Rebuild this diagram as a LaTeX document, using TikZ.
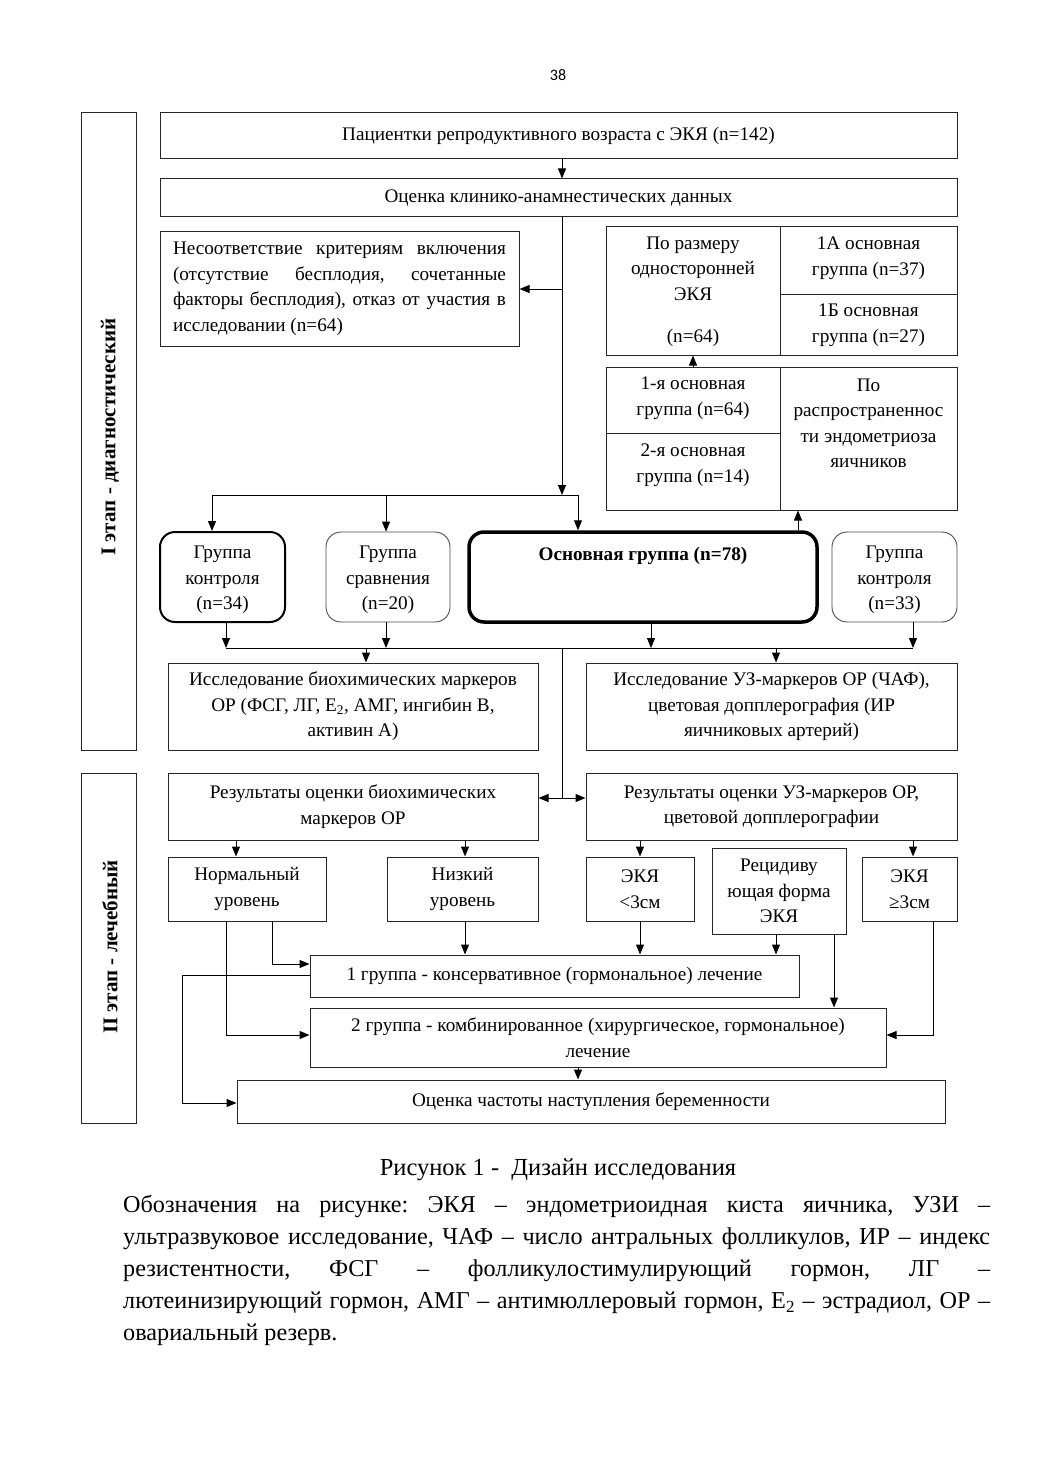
\documentclass[tikz,border=0pt]{standalone}
\usepackage{fontspec}
\setmainfont{Liberation Serif}
\newfontfamily\pagefont{Carlito}
\usetikzlibrary{arrows.meta}
\frenchspacing
\begin{document}
\begin{tikzpicture}[x=1pt,y=-1pt,
  every node/.style={font=\fontsize{19.2}{25.5}\selectfont, inner sep=0pt},
  box/.style={draw=black!85, line width=1pt, align=center},
  cell/.style={draw=black!85, line width=1pt},
  rbox/.style={draw=black!70, line width=0.9pt, rounded corners=15pt, align=center},
  stagebox/.style={draw=black!85, line width=1pt},
  ln/.style={line width=1pt, black},
  arr/.style={ln, -{Triangle[length=10pt,width=8pt]}},
  arrtwo/.style={ln, {Triangle[length=10pt,width=8pt]}-{Triangle[length=10pt,width=8pt]}},
  txt/.style={align=center}
]
\useasboundingbox (0,0) rectangle (1040,1471);
\fill[white] (0,0) rectangle (1040,1471);

% page number
\node[font=\pagefont\fontsize{16}{18}\selectfont] (pg) at (558,75) {38};

% stage boxes
\node[stagebox, minimum width=55pt, minimum height=637pt] (st1) at (108.5,431.5) {};
\node[font=\bfseries\fontsize{21}{22}\selectfont, rotate=90] (st1t) at (110,437) {I этап - диагностический};
\node[stagebox, minimum width=55pt, minimum height=350pt] (st2) at (108.5,948) {};
\node[font=\bfseries\fontsize{21}{22}\selectfont, rotate=90] (st2t) at (110,947) {II этап - лечебный};

% top boxes
\node[box, minimum width=797pt, minimum height=46pt] (p1) at (558.5,136) {Пациентки репродуктивного возраста с ЭКЯ (n=142)};
\node[box, minimum width=797pt, minimum height=38pt] (p2) at (558.5,198) {Оценка клинико-анамнестических данных};

% exclusion box
\node[box, minimum width=359pt, minimum height=114pt, text width=333pt, align=justify] (ex) at (339.5,289)
 {Несоответствие критериям включения\linebreak (отсутствие бесплодия, сочетанные\linebreak факторы бесплодия), отказ от участия в\linebreak исследовании (n=64)};

% right top block
\node[cell, minimum width=174pt, minimum height=128pt] (rtA) at (693,291) {};
\node[txt] (rtAt) at (693,292) {По размеру\\односторонней\\ЭКЯ\\[17pt](n=64)};
\node[cell, minimum width=177pt, minimum height=67pt] (rtB) at (868.5,260.5) {};
\node[txt] (rtBt) at (868.5,258) {1А основная\\группа (n=37)};
\node[cell, minimum width=177pt, minimum height=61pt] (rtC) at (868.5,324.5) {};
\node[txt] (rtCt) at (868.5,325) {1Б основная\\группа (n=27)};

% lower right block
\node[cell, minimum width=174pt, minimum height=66pt] (loA) at (693,400) {};
\node[txt] (loAt) at (693,398) {1-я основная\\группа (n=64)};
\node[cell, minimum width=174pt, minimum height=77pt] (loB) at (693,471.5) {};
\node[txt] (loBt) at (693,465) {2-я основная\\группа (n=14)};
\node[cell, minimum width=177pt, minimum height=143pt] (loC) at (868.5,438.5) {};
\node[txt] (loCt) at (868.5,423.5) {По\\распространеннос\\ти эндометриоза\\яичников};

% groups
\node[rbox, draw=black, line width=2pt, minimum width=125pt, minimum height=90pt] (g1) at (222.5,577) {};
\node[txt] (g1t) at (222.5,580) {Группа\\контроля\\(n=34)};
\node[rbox, minimum width=124pt, minimum height=90pt] (g2) at (388,577) {};
\node[txt] (g2t) at (388,580) {Группа\\сравнения\\(n=20)};
\node[rbox, draw=black, line width=3.5pt, minimum width=348pt, minimum height=90pt] (gm) at (643,577) {};
\node[txt, font=\bfseries\fontsize{19.2}{25.5}\selectfont] (gmt) at (643,556) {Основная группа (n=78)};
\node[rbox, minimum width=125pt, minimum height=90pt] (g4) at (894.5,577) {};
\node[txt] (g4t) at (894.5,580) {Группа\\контроля\\(n=33)};

% studies
\node[box, minimum width=370pt, minimum height=87pt] (s1) at (353,706.5) {Исследование биохимических маркеров\\ОР (ФСГ, ЛГ, E\textsubscript{2}, АМГ, ингибин В,\\активин А)};
\node[box, minimum width=371pt, minimum height=87pt] (s2) at (771.5,706.5) {Исследование УЗ-маркеров ОР (ЧАФ),\\цветовая допплерография (ИР\\яичниковых артерий)};

% results
\node[box, minimum width=370pt, minimum height=67pt] (r1) at (353,806.5) {Результаты оценки биохимических\\маркеров ОР};
\node[box, minimum width=371pt, minimum height=67pt] (r2) at (771.5,806.5) {Результаты оценки УЗ-маркеров ОР,\\цветовой допплерографии};

% levels
\node[box, minimum width=158pt, minimum height=64pt] (n1) at (247,889) {Нормальный\\уровень};
\node[box, minimum width=151pt, minimum height=64pt] (n2) at (462.5,889) {Низкий\\уровень};
\node[box, minimum width=108pt, minimum height=64pt] (e1) at (640,889) {ЭКЯ\\<3см};
\node[box, minimum width=134pt, minimum height=86pt] (rc) at (779,891) {Рецидиву\\ющая форма\\ЭКЯ};
\node[box, minimum width=95pt, minimum height=64pt] (e2) at (909.5,889) {ЭКЯ\\≥3см};

% treatment
\node[box, minimum width=489pt, minimum height=42pt] (G1) at (554.5,976) {1 группа - консервативное (гормональное) лечение};
\node[box, minimum width=576pt, minimum height=59pt] (G2) at (598,1037.5) {2 группа - комбинированное (хирургическое, гормональное)\\лечение};
\node[box, minimum width=708pt, minimum height=43pt] (O) at (591,1101.5) {Оценка частоты наступления беременности};

% caption
\node[font=\fontsize{24.5}{28}\selectfont] (cap) at (558,1170) {Рисунок 1 -\ \ Дизайн исследования};
\node[anchor=north west, text width=867pt, align=justify, font=\fontsize{24.2}{32}\selectfont] (leg) at (123,1195)
{Обозначения на рисунке: ЭКЯ – эндометриоидная киста яичника, УЗИ –\linebreak
ультразвуковое исследование, ЧАФ – число антральных фолликулов, ИР – индекс\linebreak
резистентности, ФСГ – фолликулостимулирующий гормон, ЛГ –\linebreak
лютеинизирующий гормон, АМГ – антимюллеровый гормон, E\textsubscript{2} – эстрадиол, ОР –\linebreak
овариальный резерв.};

% coordinates
\coordinate (vx) at (562,0);
\coordinate (bj) at (562,495);
\coordinate (jL) at (212,495);
\coordinate (jM) at (386,495);
\coordinate (jR) at (578,495);
\coordinate (u2) at (798,0);
\coordinate (hL) at (226,648);
\coordinate (hM) at (386,648);
\coordinate (hC) at (651,648);
\coordinate (hR) at (913,648);
\coordinate (hS1) at (366,648);
\coordinate (hS2) at (776,648);
\coordinate (hV) at (562,648);
\coordinate (dj) at (562,798);
\coordinate (xa) at (236,0);
\coordinate (xb) at (465,0);
\coordinate (xc) at (640,0);
\coordinate (xd) at (913,0);
\coordinate (k1) at (272,964);
\coordinate (k2) at (226,1035);
\coordinate (k5) at (933,1035);
\coordinate (xr1) at (776,0);
\coordinate (xr2) at (834,0);
\coordinate (k3) at (182,975);
\coordinate (k4) at (182,1103);
\coordinate (xo) at (578,0);

% connectors
\draw[arr] (p1.south -| vx) -- (p2.north -| vx);
\draw[arr] (p2.south -| vx) -- (bj);
\draw[arr] (vx |- ex.east) -- (ex.east);
\draw[ln] (jL) -- (jR);
\draw[arr] (jL) -- (jL |- g1.north);
\draw[arr] (jM) -- (jM |- g2.north);
\draw[arr] (jR) -- (jR |- gm.north);
\draw[arr] (loA.north) -- (rtA.south);
\draw[arr] (gm.north -| u2) -- (loC.south -| u2);

\draw[arr] (g1.south -| hL) -- (hL);
\draw[arr] (g2.south -| hM) -- (hM);
\draw[arr] (gm.south -| hC) -- (hC);
\draw[arr] (g4.south -| hR) -- (hR);
\draw[ln] (hL) -- (hR);
\draw[arr] (hS1) -- (hS1 |- s1.north);
\draw[arr] (hS2) -- (hS2 |- s2.north);
\draw[ln] (hV) -- (dj);
\draw[arrtwo] (r1.east |- dj) -- (r2.west |- dj);

\draw[arr] (r1.south -| xa) -- (n1.north -| xa);
\draw[arr] (r1.south -| xb) -- (n2.north -| xb);
\draw[arr] (r2.south -| xc) -- (e1.north -| xc);
\draw[arr] (r2.south -| xd) -- (e2.north -| xd);

\draw[arr] (n1.south -| k1) |- (G1.west |- k1);
\draw[arr] (n1.south -| k2) |- (G2.west |- k2);
\draw[arr] (n2.south -| xb) -- (G1.north -| xb);
\draw[arr] (e1.south -| xc) -- (G1.north -| xc);
\draw[arr] (rc.south -| xr1) -- (G1.north -| xr1);
\draw[arr] (rc.south -| xr2) -- (G2.north -| xr2);
\draw[arr] (e2.south -| k5) |- (G2.east |- k5);
\draw[arr] (G1.west |- k3) -- (k3) -- (k4) -- (O.west |- k4);
\draw[arr] (G2.south -| xo) -- (O.north -| xo);
\end{tikzpicture}
\end{document}
